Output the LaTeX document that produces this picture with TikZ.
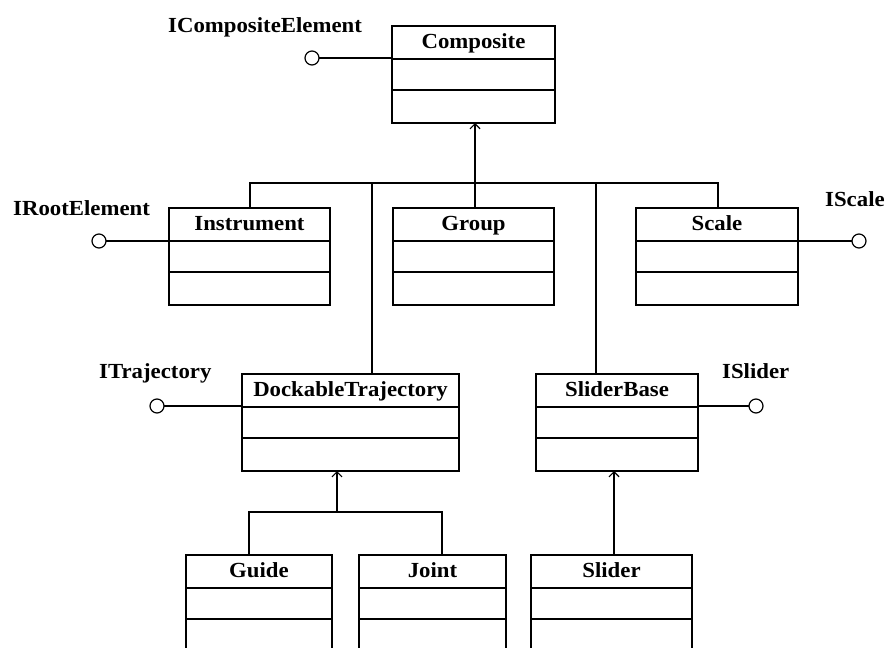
\documentclass[tikz,border=0pt]{standalone}
\usepackage{fontspec}
\setmainfont[FakeStretch=1.06]{Liberation Serif}
\usetikzlibrary{arrows.meta}
\newcommand{\umlclass}[5]{%
  \node[cls, minimum width={(#4-#2)*1pt}] (#1) at (#2,#3) {};
  \draw[divline] ([yshift=-33pt]#1.north west) -- ([yshift=-33pt]#1.north east);
  \draw[divline] ([yshift=-64pt]#1.north west) -- ([yshift=-64pt]#1.north east);
  \node[lbl, anchor=base] (#1t) at ([yshift=-22pt]#1.north) {#5};
}
\begin{document}
\begin{tikzpicture}[x=1pt,y=-1pt,
  cls/.style={draw, line width=1.3pt, anchor=north west, minimum height=97pt, inner sep=0pt, outer sep=0pt},
  divline/.style={line width=1.3pt},
  lbl/.style={font=\fontsize{21.5}{24}\selectfont\bfseries, inner sep=0pt},
  iface/.style={circle, draw, line width=1.2pt, minimum size=14pt, inner sep=0pt, outer sep=0pt},
  conn/.style={line width=1.3pt},
  inh/.style={line width=1.3pt, -{Straight Barb[length=5pt,width=10pt,line width=1.2pt]}}]
\useasboundingbox (0,0) rectangle (887,648);
\clip (0,0) rectangle (887,648);
\fill[white] (0,0) rectangle (887,648);

% classes
\umlclass{comp}{392}{26}{555}{Composite}
\umlclass{ins}{169}{208}{330}{Instrument}
\umlclass{grp}{393}{208}{554}{Group}
\umlclass{sc}{636}{208}{798}{Scale}
\umlclass{dt}{242}{374}{459}{DockableTrajectory}
\umlclass{sb}{536}{374}{698}{SliderBase}
\umlclass{gd}{186}{555}{332}{Guide}
\umlclass{jt}{359}{555}{506}{Joint}
\umlclass{sl}{531}{555}{692}{Slider}

% interfaces
\node[iface] (icomp) at (312,58) {};
\node[lbl, anchor=base west] (icompl) at (168,32) {ICompositeElement};
\node[iface] (iroot) at (99,241) {};
\node[lbl, anchor=base west] (irootl) at (13,215) {IRootElement};
\node[iface] (iscale) at (859,241) {};
\node[lbl, anchor=base west] (iscalel) at (825,206) {IScale};
\node[iface] (itraj) at (157,406) {};
\node[lbl, anchor=base west] (itrajl) at (99,378) {ITrajectory};
\node[iface] (isl) at (756,406) {};
\node[lbl, anchor=base west] (isll) at (722,378) {ISlider};

\draw[conn] (icomp.east) -- (icomp.east -| comp.west);
\draw[conn] (iroot.east) -- (iroot.east -| ins.west);
\draw[conn] (iscale.west) -- (iscale.west -| sc.east);
\draw[conn] (itraj.east) -- (itraj.east -| dt.west);
\draw[conn] (isl.west) -- (isl.west -| sb.east);

% main inheritance bus
\coordinate (bus) at (475,183);
\coordinate (grpj) at (475,208);
\coordinate (insj) at (250,208);
\coordinate (scj) at (718,208);
\coordinate (dtj) at (372,374);
\coordinate (sbj) at (596,374);
\draw[inh] (grpj) -- (grpj |- comp.south);
\draw[conn] (insj) |- (bus) -| (scj);
\draw[conn] (dtj) -- (dtj |- bus);
\draw[conn] (sbj) -- (sbj |- bus);

% DockableTrajectory children
\coordinate (dtbus) at (337,512);
\coordinate (gdj) at (249,555);
\coordinate (jtj) at (442,555);
\draw[inh] (dtbus) -- (dtbus |- dt.south);
\draw[conn] (gdj) |- (dtbus) -| (jtj);

% Slider
\coordinate (slj) at (614,555);
\draw[inh] (slj) -- (slj |- sb.south);
\end{tikzpicture}
\end{document}
